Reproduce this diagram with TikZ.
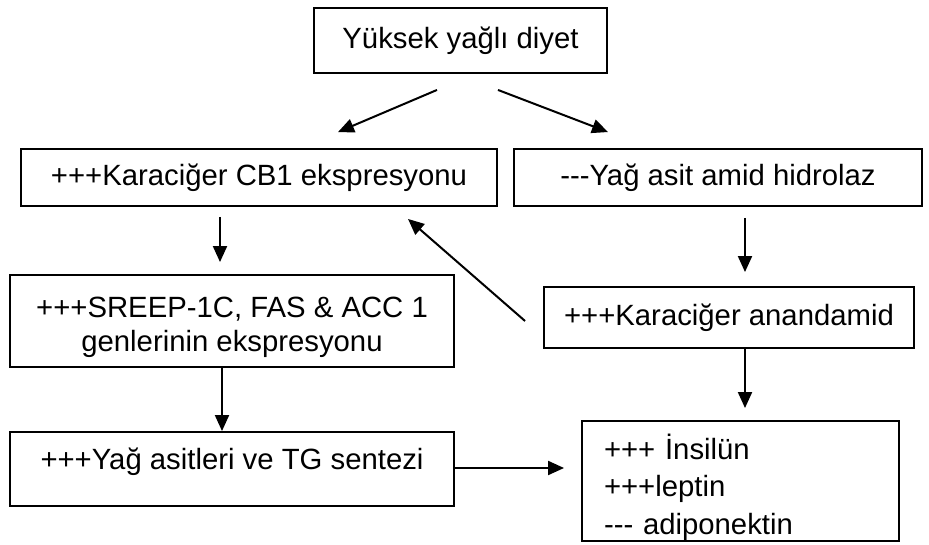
\documentclass[tikz,border=0pt]{standalone}
\usepackage{fontspec}
\setmainfont{Liberation Sans}
\usetikzlibrary{arrows.meta}

\begin{document}
\begin{tikzpicture}[x=1pt,y=-1pt]

\tikzset{box/.style = {shape=rectangle,draw,line width=1.9pt,inner sep=0pt,font=\fontsize{29.3pt}{35pt}\selectfont}}
\tikzset{edge/.style = {->,line width=2pt,> = {Triangle[length=16pt,width=14pt]}}}
\useasboundingbox (0,0) rectangle (929,545);
% boxes
\node[box, minimum width=293pt, minimum height=65pt] (diet) at (460.5,40.5) {Yüksek yağlı diyet};
\node[box, minimum width=476pt, minimum height=57pt] (cb1) at (259,177.5) {+++Karaciğer CB1 ekspresyonu};
\node[box, minimum width=408pt, minimum height=57pt] (faah) at (718,177.5) {-{}-{}-Yağ asit amid hidrolaz};
\node[box, minimum width=444pt, minimum height=92pt, align=center, text height=77pt, text depth=15pt] (srebp) at (232,321) {+++SREEP-1C, FAS \& ACC 1\\genlerinin ekspresyonu};
\node[box, minimum width=370pt, minimum height=61pt] (anand) at (729,317.5) {+++Karaciğer anandamid};
\node[box, minimum width=444pt, minimum height=74pt, text height=21pt, text depth=21pt] (tg) at (232,469) {+++Yağ asitleri ve TG sentezi};
\node[box, minimum width=317pt, minimum height=120pt, text width=273pt, align=left, text height=38pt, text depth=82pt, font=\fontsize{29.3pt}{37.5pt}\selectfont] (horm) at (740.5,481) {+++ İnsilün\\+++leptin\\-{}-{}- adiponektin};
% arrows
\draw [edge] ([xshift=-23.5pt,yshift=-16pt]diet.south) -- ([xshift=79pt,yshift=16pt]cb1.north);
\draw [edge] ([xshift=37.5pt,yshift=-16pt]diet.south) -- ([xshift=-110pt,yshift=16pt]faah.north);
\draw [edge] ([xshift=-39pt,yshift=-10pt]cb1.south) -- ([xshift=-12pt,yshift=12pt]srebp.north);
\draw [edge] ([xshift=27pt,yshift=-11pt]faah.south) -- ([xshift=16pt,yshift=14pt]anand.north);
\draw [edge] ([xshift=-18pt,yshift=-3.5pt]anand.west) -- ([xshift=149pt,yshift=-12pt]cb1.south);
\draw [edge] ([xshift=16pt]anand.south) -- ([xshift=4.5pt,yshift=12pt]horm.north);
\draw [edge] ([xshift=-10pt]srebp.south) -- ([xshift=-10pt]tg.north);
\draw [edge] ([yshift=1pt]tg.east) -- ([xshift=-17pt,yshift=13pt]horm.west);
\end{tikzpicture}
\end{document}
